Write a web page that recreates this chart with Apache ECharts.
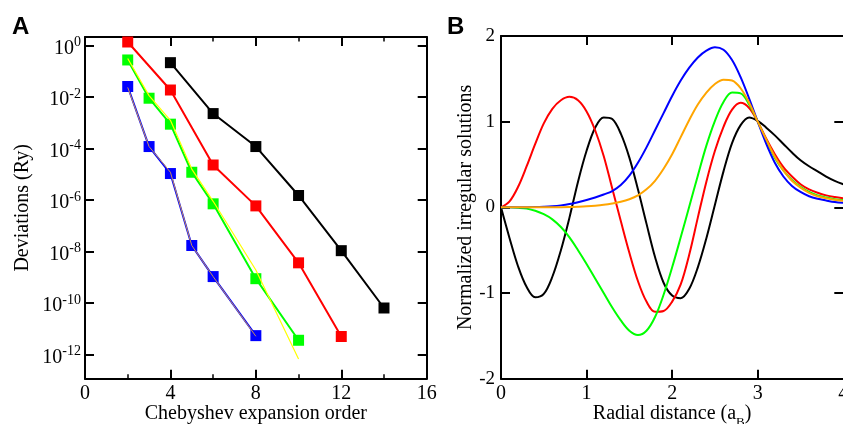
<!DOCTYPE html>
<html><head><meta charset="utf-8">
<script src="https://cdn.jsdelivr.net/npm/echarts@6/dist/echarts.min.js"></script>
<style>html,body{margin:0;padding:0;background:#fff}#c{width:843px;height:424px}</style>
</head><body><div id="c"></div>
<script>
// ---------- Panel A data ----------
const ordersBlack = [4, 6, 8, 10, 12, 14];
const devBlack = [0.22, 2.3e-3, 1.2e-4, 1.5e-6, 1.07e-8, 6.3e-11];
const ordersRed = [2, 4, 6, 8, 10, 12];
const devRed = [1.4, 1.9e-2, 2.3e-5, 5.9e-7, 3.6e-9, 4.9e-12];
const ordersGreen = [2, 3, 4, 5, 6, 8, 10];
const devGreen = [0.28, 9.1e-3, 8.9e-4, 1.2e-5, 7.1e-7, 8.7e-10, 3.5e-12];
const ordersBlue = [2, 3, 4, 5, 6, 8];
const devBlue = [2.6e-2, 1.2e-4, 1.07e-5, 1.7e-8, 1.05e-9, 5.3e-12];
const ordersYellow = [2, 3, 4, 5, 6, 8, 10];
const devYellow = [0.32, 1.15e-2, 1.26e-3, 1.6e-5, 8.9e-7, 1.9e-9, 6.6e-13];
const ordersTan = [2, 3, 4, 5, 6, 8];
const devTan = [2.4e-2, 1.2e-4, 1.2e-5, 1.7e-8, 1.05e-9, 5.0e-12];
const xTicksA = [0, 4, 8, 12, 16];
const yTicksA = [1e-12, 1e-10, 1e-8, 1e-6, 1e-4, 1e-2, 1];

// ---------- Panel B data ----------
const radius = [0,0.1,0.2,0.3,0.4,0.5,0.6,0.7,0.8,0.9,1.0,1.1,1.2,1.3,1.4,1.5,1.6,1.7,1.8,1.9,2.0,
                2.1,2.2,2.3,2.4,2.5,2.6,2.7,2.8,2.9,3.0,3.1,3.2,3.3,3.4,3.5,3.6,3.7,3.8,3.9,4.0];
const solBlack = [0,-0.36,-0.69,-0.93,-1.05,-1.01,-0.81,-0.5,-0.12,0.3,0.66,0.93,1.05,1.03,0.86,0.58,0.21,-0.19,-0.58,-0.88,-1.03,
                  -1.06,-0.95,-0.7,-0.36,0.03,0.42,0.75,0.96,1.05,1.01,0.93,0.84,0.74,0.64,0.55,0.48,0.42,0.36,0.31,0.27];
const solRed = [0,0.07,0.24,0.48,0.74,0.98,1.15,1.25,1.29,1.25,1.12,0.9,0.6,0.22,-0.16,-0.53,-0.86,-1.1,-1.22,-1.21,-1.1,
                -0.9,-0.55,-0.12,0.3,0.66,0.94,1.14,1.22,1.16,1.0,0.8,0.62,0.47,0.36,0.27,0.21,0.17,0.14,0.12,0.105];
const solGreen = [0,0,-0.005,-0.015,-0.04,-0.08,-0.14,-0.23,-0.35,-0.5,-0.66,-0.83,-1.0,-1.17,-1.32,-1.44,-1.49,-1.44,-1.28,-1.02,-0.7,
                  -0.35,0.01,0.37,0.72,1.01,1.23,1.34,1.33,1.2,1.0,0.78,0.58,0.43,0.32,0.24,0.18,0.14,0.115,0.095,0.085];
const solBlue = [0,0,0,0.001,0.003,0.007,0.013,0.023,0.038,0.06,0.085,0.115,0.15,0.19,0.26,0.37,0.52,0.7,0.9,1.1,1.3,
                 1.48,1.63,1.75,1.83,1.87,1.84,1.72,1.52,1.27,1.0,0.74,0.52,0.36,0.25,0.18,0.13,0.1,0.08,0.062,0.052];
const solOrange = [0,0,0,0,0,0,0.001,0.002,0.004,0.008,0.013,0.02,0.03,0.045,0.065,0.095,0.14,0.21,0.31,0.45,0.62,
                   0.82,1.02,1.2,1.34,1.44,1.49,1.48,1.39,1.22,1.0,0.79,0.59,0.43,0.31,0.23,0.17,0.13,0.105,0.09,0.078];

const SERIF = 'Liberation Serif, Times New Roman, serif';
const pairs = (xs, ys) => xs.map((x, i) => [x, ys[i]]);

const axisLineStyle = { onZero: false, lineStyle: { color: '#000', width: 2 } };
const tickStyle = { inside: true, length: 9, lineStyle: { color: '#000', width: 2 } };

const supFormatter = v => '{b|10}{s|' + Math.round(Math.log10(v)) + '}';
const supRich = {
  b: { fontSize: 20, fontFamily: SERIF, color: '#000', padding: [6, 0, 0, 0] },
  s: { fontSize: 14, fontFamily: SERIF, color: '#000', padding: [0, 0, 6, 0] }
};

const chart = echarts.init(document.getElementById('c'), null, { renderer: 'canvas' });
const lineA = (name, xs, ys, color, width, withSymbol, z) => ({
  name, type: 'line', xAxisIndex: 0, yAxisIndex: 0, data: pairs(xs, ys),
  lineStyle: { color, width }, itemStyle: { color },
  symbol: withSymbol ? 'rect' : 'none', symbolSize: 11, showSymbol: withSymbol,
  z: z, animation: false, silent: true
});
const lineB = (name, ys, color) => ({
  name, type: 'line', xAxisIndex: 2, yAxisIndex: 2, data: pairs(radius, ys),
  lineStyle: { color, width: 2 }, itemStyle: { color },
  symbol: 'none', smooth: 0.35, animation: false, silent: true
});

chart.setOption({
  animation: false,
  backgroundColor: '#fff',
  grid: [
    { left: 85, top: 37, width: 341.7, height: 341.7, outerBoundsMode: 'none', containLabel: false },
    { left: 501, top: 36, width: 342.3, height: 342.7, outerBoundsMode: 'none', containLabel: false }
  ],
  xAxis: [
    { gridIndex: 0, type: 'value', min: 0, max: 16, interval: 4, position: 'bottom',
      axisLine: axisLineStyle, axisTick: tickStyle,
      minorTick: { show: true, splitNumber: 2, length: 4.5, lineStyle: { color: '#000', width: 1.5 } },
      splitLine: { show: false },
      axisLabel: { fontSize: 20, fontFamily: SERIF, color: '#000', margin: 5 },
      name: 'Chebyshev expansion order', nameLocation: 'middle', nameGap: 25, nameMoveOverlap: false,
      nameTextStyle: { fontSize: 20, fontFamily: SERIF, color: '#000' } },
    { gridIndex: 0, type: 'value', min: 0, max: 16, interval: 4, position: 'top',
      axisLine: axisLineStyle, axisTick: tickStyle,
      minorTick: { show: true, splitNumber: 2, length: 4.5, lineStyle: { color: '#000', width: 1.5 } },
      splitLine: { show: false }, axisLabel: { show: false } },
    { gridIndex: 1, type: 'value', min: 0, max: 4, interval: 1, position: 'bottom',
      axisLine: axisLineStyle, axisTick: tickStyle, splitLine: { show: false },
      axisLabel: { fontSize: 20, fontFamily: SERIF, color: '#000', margin: 5 },
      name: 'Radial distance (a{sub|B})', nameLocation: 'middle', nameGap: 21, nameMoveOverlap: false,
      nameTextStyle: { fontSize: 20, fontFamily: SERIF, color: '#000',
        rich: { sub: { fontSize: 13, fontFamily: SERIF, color: '#000', padding: [16, 0, 0, 0] } } } },
    { gridIndex: 1, type: 'value', min: 0, max: 4, interval: 1, position: 'top',
      axisLine: axisLineStyle, axisTick: tickStyle, splitLine: { show: false },
      axisLabel: { show: false } }
  ],
  yAxis: [
    { gridIndex: 0, type: 'log', min: 1.12e-13, max: 2.19, position: 'left',
      axisLine: axisLineStyle,
      axisTick: Object.assign({}, tickStyle, { customValues: yTicksA }),
      splitLine: { show: false }, minorTick: { show: false },
      axisLabel: { customValues: yTicksA, formatter: supFormatter, rich: supRich, margin: 4 },
      name: 'Deviations (Ry)', nameLocation: 'middle', nameGap: 52, nameMoveOverlap: false,
      nameTextStyle: { fontSize: 20, fontFamily: SERIF, color: '#000' } },
    { gridIndex: 0, type: 'log', min: 1.12e-13, max: 2.19, position: 'right',
      axisLine: axisLineStyle,
      axisTick: Object.assign({}, tickStyle, { customValues: yTicksA }),
      splitLine: { show: false }, minorTick: { show: false },
      axisLabel: { show: false } },
    { gridIndex: 1, type: 'value', min: -2, max: 2, interval: 1, position: 'left',
      axisLine: axisLineStyle, axisTick: tickStyle, splitLine: { show: false },
      axisLabel: { fontSize: 19, fontFamily: SERIF, color: '#000', margin: 6 },
      name: 'Normalized irregular solutions', nameLocation: 'middle', nameGap: 25, nameMoveOverlap: false,
      nameTextStyle: { fontSize: 20, fontFamily: SERIF, color: '#000' } },
    { gridIndex: 1, type: 'value', min: -2, max: 2, interval: 1, position: 'right',
      axisLine: axisLineStyle, axisTick: tickStyle, splitLine: { show: false },
      axisLabel: { show: false } }
  ],
  graphic: [
    { type: 'text', left: 12, top: 15, style: { text: 'A', font: 'bold 24px Liberation Sans, Arial, sans-serif', fill: '#000' } },
    { type: 'text', left: 447, top: 15, style: { text: 'B', font: 'bold 24px Liberation Sans, Arial, sans-serif', fill: '#000' } }
  ],
  series: [
    lineA('black', ordersBlack, devBlack, '#000000', 2, true, 2),
    lineA('red', ordersRed, devRed, '#ff0000', 2, true, 2),
    lineA('green', ordersGreen, devGreen, '#00ff00', 2, true, 2),
    lineA('blue', ordersBlue, devBlue, '#0000ff', 2, true, 2),
    lineA('yellow', ordersYellow, devYellow, '#ffff00', 1.2, false, 3),
    lineA('tan', ordersTan, devTan, '#c8905a', 1, false, 3),
    lineB('black', solBlack, '#000000'),
    lineB('red', solRed, '#ff0000'),
    lineB('green', solGreen, '#00ff00'),
    lineB('blue', solBlue, '#0000ff'),
    lineB('orange', solOrange, '#ffa500')
  ]
});
</script></body></html>
